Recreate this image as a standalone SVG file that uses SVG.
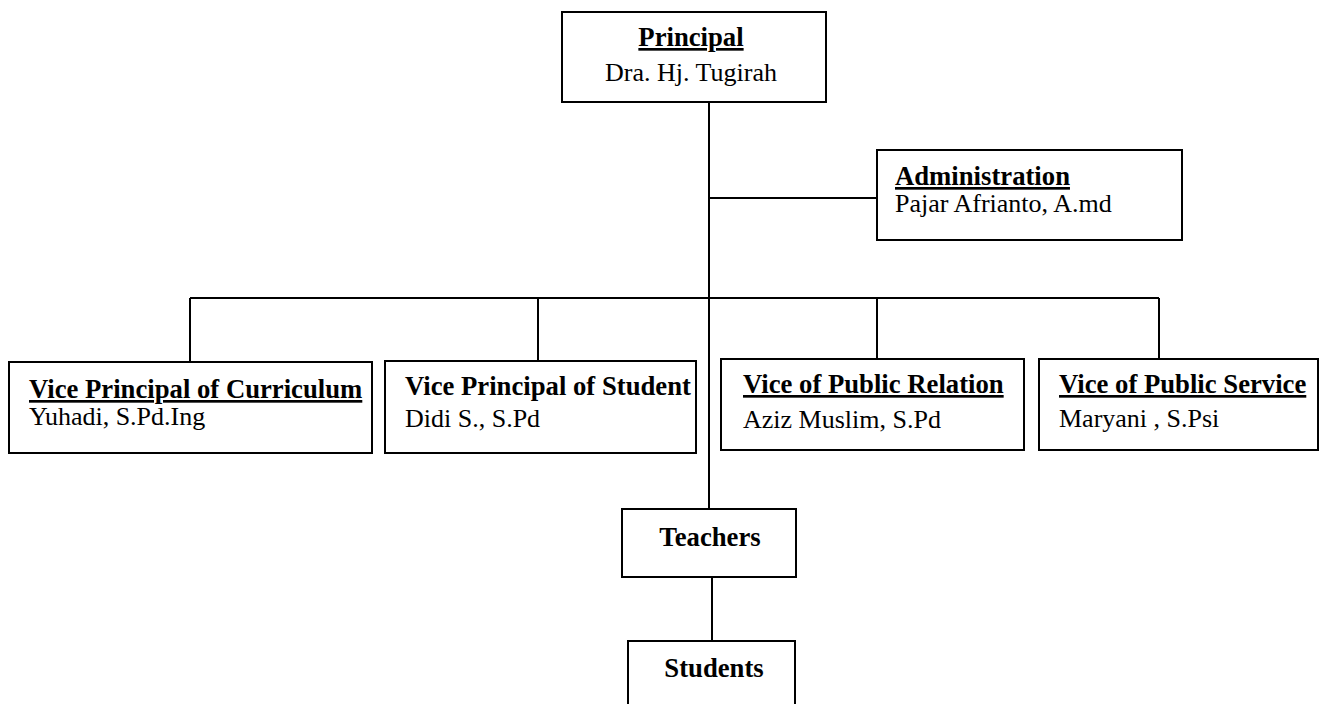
<svg xmlns="http://www.w3.org/2000/svg" width="1321" height="704" viewBox="0 0 1321 704">
<style>
.box{fill:#fff;stroke:#000;stroke-width:2}
.ln{stroke:#000;stroke-width:2;fill:none}
text{font-family:"Liberation Serif","Times New Roman",serif;font-size:26px;fill:#000}
.b{font-weight:bold;font-size:26.7px}
.u{text-decoration:underline}
.c{text-anchor:middle}
</style>
<rect width="1321" height="704" fill="#fff"/>
<g id="connectors">
<line class="ln" x1="709" y1="102" x2="709" y2="509"/>
<line class="ln" x1="709" y1="198" x2="877" y2="198"/>
<line class="ln" x1="190" y1="298" x2="1159" y2="298"/>
<line class="ln" x1="190" y1="298" x2="190" y2="362"/>
<line class="ln" x1="538" y1="298" x2="538" y2="361"/>
<line class="ln" x1="877" y1="298" x2="877" y2="359"/>
<line class="ln" x1="1159" y1="298" x2="1159" y2="359"/>
<line class="ln" x1="712" y1="577" x2="712" y2="641"/>
</g>
<g id="principal">
<rect class="box" x="562" y="12" width="264" height="90"/>
<text class="b u c" x="691" y="46">Principal</text>
<text class="c" x="691" y="81">Dra. Hj. Tugirah</text>
</g>
<g id="administration">
<rect class="box" x="877" y="150" width="305" height="90"/>
<text class="b u" x="895" y="185">Administration</text>
<text x="895" y="212">Pajar Afrianto, A.md</text>
</g>
<g id="vp-curriculum">
<rect class="box" x="9" y="362" width="363" height="91"/>
<text class="b u" x="29" y="398">Vice Principal of Curriculum</text>
<text x="29" y="425">Yuhadi, S.Pd.Ing</text>
</g>
<g id="vp-student">
<rect class="box" x="385" y="361" width="311" height="92"/>
<text class="b" x="405" y="395">Vice Principal of Student</text>
<text x="405" y="427">Didi S., S.Pd</text>
</g>
<g id="vp-public-relation">
<rect class="box" x="721" y="359" width="303" height="91"/>
<text class="b u" x="743" y="393">Vice of Public Relation</text>
<text x="743" y="428">Aziz Muslim, S.Pd</text>
</g>
<g id="vp-public-service">
<rect class="box" x="1039" y="359" width="279" height="91"/>
<text class="b u" x="1059" y="393">Vice of Public Service</text>
<text x="1059" y="427">Maryani , S.Psi</text>
</g>
<g id="teachers">
<rect class="box" x="622" y="509" width="174" height="68"/>
<text class="b c" x="710" y="546">Teachers</text>
</g>
<g id="students">
<rect class="box" x="628" y="641" width="167" height="80"/>
<text class="b c" x="714" y="677">Students</text>
</g>
</svg>
